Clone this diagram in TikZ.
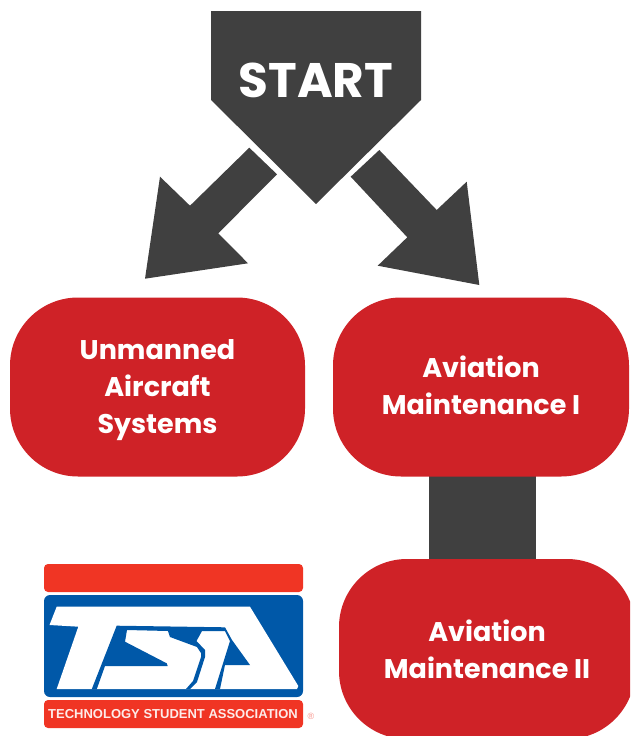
\documentclass[tikz,border=0pt]{standalone}
\usepackage{fontspec}
\setmainfont{Poppins}
\newfontfamily\logofont{Liberation Sans}
\definecolor{darkg}{HTML}{404040}
\definecolor{boxred}{HTML}{CF2227}
\definecolor{logored}{HTML}{F03524}
\definecolor{logoblue}{HTML}{0058A8}
\tikzset{
  shapefill/.style={fill=darkg,draw=none},
  pill/.style={fill=boxred,draw=none,rounded corners=68pt,inner sep=0pt},
  pilltext/.style={text=white,align=center,inner sep=0pt,
    font=\fontsize{27pt}{37pt}\selectfont\bfseries},
  logobar/.style={fill=logored,draw=none,rounded corners=4pt},
}
\begin{document}
\begin{tikzpicture}[x=1pt,y=-1pt]
\useasboundingbox (0,0) rectangle (630,736);
\clip (0,0) rectangle (630,736);
% start pentagon
\fill[shapefill] (211,11) -- (421,11) -- (421,100) -- (316,204) -- (211,100) -- cycle;
\node[text=white,font=\fontsize{48.5pt}{48.5pt}\selectfont\bfseries,inner sep=0pt] (start) at (316,80) {START};
% arrows
\fill[shapefill] (249.3,147.7) -- (277,174.3) -- (218.3,233.3) -- (248,263.3) -- (145,278.7) -- (160,176.7) -- (190,205.7) -- cycle;
\fill[shapefill] (379.3,150) -- (436.7,210) -- (466.7,181.7) -- (479.3,285) -- (377.7,265.7) -- (407.3,237.3) -- (350.7,176.7) -- cycle;
% connector behind the pills
\coordinate (bartop) at (482.5,470);
\coordinate (barbot) at (482.5,565);
\draw[darkg,line width=107pt] (bartop) -- (barbot);
% pills
\node[pill,minimum width=295pt,minimum height=179pt] (uas) at (157.5,387) {};
\node[pilltext] (uastext) at ([yshift=-3pt]uas.center) {Unmanned\\Aircraft\\Systems};
\node[pill,minimum width=296pt,minimum height=179pt] (am1) at (481,387) {};
\node[pilltext] (am1text) at ([yshift=2pt]am1.center) {Aviation\\Maintenance I};
\node[pill,minimum width=296pt,minimum height=180pt] (am2) at (487,649) {};
\node[pilltext] (am2text) at (am2.center) {Aviation\\Maintenance II};
% logo
\fill[logobar] (44,564) rectangle (303,592);
\fill[logobar] (44,700) rectangle (303,728);
\fill[logoblue,rounded corners=6pt] (44,595) rectangle (303,697);
\fill[white] (56.7,606.7) -- (250,606.7) -- (298.3,686) -- (297,689) -- (56.7,689) -- (78.3,626.7) -- (49.5,625) -- cycle;
\fill[logoblue] (91.7,689.3) -- (116.7,625.7) -- (225,627.3) -- (232,640) -- (250,665) -- (225,665) -- (220,689) -- (215,689) -- (230,641) -- (225,631) -- (202,631) -- (196.5,641) -- (205,650) -- (205,657) -- (197,682) -- (190,689) -- (186,689) -- (193,681) -- (201,657) -- (201,653) -- (197,647) -- (170,637) -- (168,631) -- (127,630) -- (125,641.7) -- (166.7,663.3) -- (167.7,666) -- (105,666) -- (96.7,689.3) -- cycle;
\node[text=white!90!logored,font=\logofont\fontsize{13pt}{13pt}\selectfont\bfseries,inner sep=0pt] (tsatext) at (173,714.5) {TECHNOLOGY STUDENT ASSOCIATION};
\node[text=logored!55,font=\logofont\fontsize{9pt}{9pt}\selectfont,inner sep=0pt] (reg) at (311,716.5) {®};
\end{tikzpicture}
\end{document}
